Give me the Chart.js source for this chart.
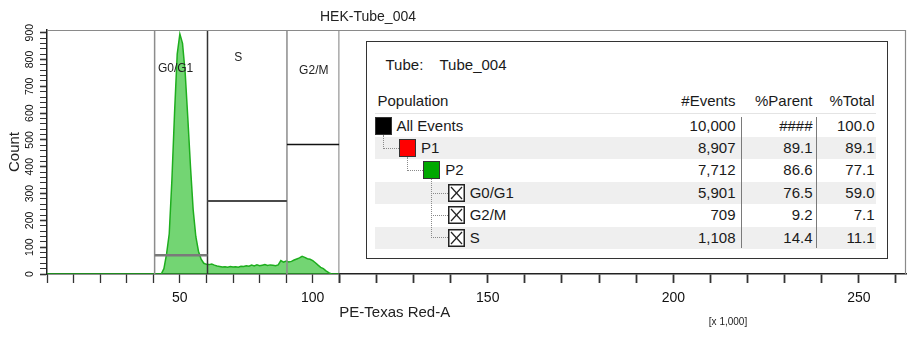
<!DOCTYPE html>
<html lang="en">
<head>
<meta charset="UTF-8" />
<title>HEK-Tube_004</title>
<script src="https://cdn.jsdelivr.net/npm/chart.js"></script>
<style>
  html, body { margin: 0; padding: 0; background: #fff; }
  body { width: 913px; height: 337px; position: relative; overflow: hidden;
         font-family: 'Liberation Sans', Arial, sans-serif; }
  #plot { position: absolute; left: 0; top: 0; }
  #stats { position: absolute; left: 366px; top: 41px; width: 522px; height: 218px;
           box-sizing: border-box; border: 1.5px solid #333; background: #fff; }
  .abs { position: absolute; }
  .txt { position: absolute; height: 18px; line-height: 18px; font-size: 15px; color: #1a1a1a; white-space: nowrap; }
  .num { text-align: right; width: 90px; }
  .stripe { position: absolute; background: #efefef; }
  .sep { position: absolute; width: 1.5px; background: #7a7a7a; }
  .link { position: absolute; border-left: 1px dotted #8a8a8a; border-bottom: 1px dotted #8a8a8a; box-sizing: border-box; }
  .swatch { position: absolute; width: 17px; height: 18px; box-sizing: border-box; border: 1px solid #333; }
</style>
</head>
<body>
  <canvas id="plot" width="913" height="337"></canvas>
  <div id="stats"></div>

<script>
  // histogram (PE-Texas Red-A, x1000) and counts
  const channels = [0, 40, 41, 42, 43, 44, 45, 46, 47, 48, 49, 50, 51, 52, 53, 54, 55, 56, 57, 58, 59,
    60, 61, 62, 63, 64, 65, 66, 67, 68, 69, 70, 71, 72, 73, 74, 75, 76, 77, 78, 79,
    80, 81, 82, 83, 84, 85, 86, 87, 88, 89, 90, 91, 92, 93, 94, 95, 96, 97, 98, 99,
    100, 101, 102, 103, 104, 105, 106, 107, 108, 110];
  const counts = [0, 0, 0, 0, 0, 20, 75, 150, 350, 600, 820, 895, 860, 750, 580, 400, 240, 140, 85, 55, 40,
    36, 35, 37, 33, 30, 28, 26, 27, 25, 28, 26, 27, 25, 29, 28, 31, 29, 33, 30, 34,
    31, 33, 35, 32, 34, 33, 31, 34, 50, 44, 48, 45, 47, 52, 56, 60, 66, 62, 57, 55,
    50, 42, 33, 25, 20, 12, 5, 0, 0, 0];

  // interval gates
  const gateNames = ['G0/G1', 'S', 'G2/M'];
  const gateLow = [40.5, 60.4, 90.3];
  const gateHigh = [60.4, 90.3, 110];
  const gateLevel = [70, 272, 483];
  const gateLabelX = [48.4, 72, 100.4];
  const gateLabelY = [766, 807, 758];
  const gateLineColor = ['#7a7a7a', '#4a4a4a', '#111111'];
  const gateLineWidth = [2.5, 2, 1.5];
  const edgeValues = [40.5, 60.4, 90.3, 110];
  const edgeColors = ['#8c8c8c', '#333333', '#8c8c8c', '#555555'];

  // axis ticks
  const xLabelsLeft = [50, 100];
  const xLabelsRight = [150, 200, 250];

  // population statistics
  const popNames = ['All Events', 'P1', 'P2', 'G0/G1', 'G2/M', 'S'];
  const popDepth = [0, 1, 2, 3, 3, 3];
  const popColor = ['#000000', '#ff0000', '#00a800', null, null, null];
  const popEvents = ['10,000', '8,907', '7,712', '5,901', '709', '1,108'];
  const popParent = ['####', '89.1', '86.6', '76.5', '9.2', '14.4'];
  const popTotal = ['100.0', '89.1', '77.1', '59.0', '7.1', '11.1'];

  const FONT = "'Liberation Sans', Arial, sans-serif";

  const datasets = [];
  datasets.push({
    label: 'P2',
    data: channels.map((c, i) => ({ x: c, y: counts[i] })),
    borderColor: '#1eae1e',
    backgroundColor: 'rgba(40,190,40,0.65)',
    borderWidth: 1.5,
    pointRadius: 0,
    fill: 'origin',
    tension: 0,
    order: 2
  });
  edgeValues.forEach((v, i) => {
    datasets.push({
      label: 'edge' + i,
      data: [{ x: v, y: 0 }, { x: v, y: 910 }],
      borderColor: edgeColors[i], borderWidth: 1.5, pointRadius: 0, fill: false, order: 1
    });
  });
  gateNames.forEach((n, i) => {
    datasets.push({
      label: n,
      data: [{ x: gateLow[i], y: gateLevel[i] }, { x: gateHigh[i], y: gateLevel[i] }],
      borderColor: gateLineColor[i], borderWidth: gateLineWidth[i], pointRadius: 0, fill: false, order: 0
    });
  });

  const labelPlugin = {
    id: 'labelPlugin',
    afterDatasetsDraw(chart) {
      const { ctx, chartArea, scales } = chart;
      ctx.save();
      // panel frame (top and right edges)
      ctx.strokeStyle = '#8a8a8a';
      ctx.lineWidth = 1.2;
      ctx.beginPath();
      ctx.moveTo(chartArea.left, chartArea.top + 0.5);
      ctx.lineTo(chartArea.right - 0.5, chartArea.top + 0.5);
      ctx.lineTo(chartArea.right - 0.5, chartArea.bottom);
      ctx.stroke();
      // gate names
      ctx.fillStyle = '#222';
      ctx.textAlign = 'center';
      ctx.textBaseline = 'middle';
      ctx.font = '12px ' + FONT;
      gateNames.forEach((n, i) => {
        ctx.fillText(n, scales.x.getPixelForValue(gateLabelX[i]), scales.y.getPixelForValue(gateLabelY[i]));
      });
      // title and scale note
      ctx.font = '14px ' + FONT;
      ctx.fillText('HEK-Tube_004', 368, 17);
      ctx.font = '10px ' + FONT;
      ctx.fillText('[x 1,000]', 728, 322);
      ctx.restore();
    }
  };

  const tickFont = { family: FONT, size: 14 };

  new Chart(document.getElementById('plot'), {
    type: 'line',
    data: { datasets: datasets },
    options: {
      responsive: false,
      animation: false,
      devicePixelRatio: 1,
      layout: { padding: { top: 30, right: 2, left: 0, bottom: 0 } },
      plugins: { legend: { display: false }, tooltip: { enabled: false } },
      scales: {
        x: {
          type: 'linear', position: 'bottom', stack: 'pe', stackWeight: 294,
          min: 0, max: 110,
          border: { display: true, color: '#222', width: 1.5 },
          grid: { display: true, drawOnChartArea: false, drawTicks: true, tickLength: 9, tickColor: '#333', tickWidth: 1.3 },
          ticks: { stepSize: 10, autoSkip: false, includeBounds: false, maxRotation: 0, padding: 7, color: '#111', font: tickFont,
                   callback: v => xLabelsLeft.includes(v) ? String(v) : '' },
          afterFit: s => { s.height = 63; }
        },
        x2: {
          type: 'linear', position: 'bottom', stack: 'pe', stackWeight: 570,
          min: 110, max: 262.7,
          border: { display: true, color: '#222', width: 1.5 },
          grid: { display: true, drawOnChartArea: false, drawTicks: true, tickLength: 9, tickColor: '#333', tickWidth: 1.8 },
          ticks: { stepSize: 10, autoSkip: false, includeBounds: false, maxRotation: 0, padding: 7, color: '#111', font: tickFont,
                   callback: v => xLabelsRight.includes(v) ? String(v) : '' },
          title: { display: true, text: 'PE-Texas Red-A', align: 'start', color: '#222',
                   font: { family: FONT, size: 15 }, padding: { top: 0, bottom: 15 } },
          afterFit: s => { s.height = 63; }
        },
        y: {
          type: 'linear', position: 'left', min: 0, max: 910,
          border: { display: true, color: '#222', width: 1.5 },
          grid: { display: true, drawOnChartArea: false, drawTicks: true, tickLength: 7, tickColor: '#333',
                  tickWidth: c => (c.tick && c.tick.value % 100 === 0) ? 1.6 : 1 },
          ticks: { stepSize: 20, autoSkip: false, includeBounds: false, minRotation: 90, maxRotation: 90,
                   crossAlign: 'center', padding: 1, color: '#111', font: { family: FONT, size: 10.5 },
                   callback: v => (v % 100 === 0) ? String(v) : '' },
          title: { display: true, text: 'Count', color: '#222', font: { family: FONT, size: 15 }, padding: { top: 6, bottom: 0 } },
          afterFit: s => { s.width = 47; }
        }
      }
    },
    plugins: [labelPlugin]
  });

  // statistics panel (page coordinates converted to panel coordinates)
  const stats = document.getElementById('stats');
  const ox = 366 + 1.5, oy = 41 + 1.5;
  function add(cls, x, y, w, h, text) {
    const d = document.createElement('div');
    d.className = cls;
    d.style.left = (x - ox) + 'px';
    d.style.top = (y - oy) + 'px';
    if (w != null) d.style.width = w + 'px';
    if (h != null) d.style.height = h + 'px';
    if (text != null) d.textContent = text;
    stats.appendChild(d);
    return d;
  }
  const rowY = i => 126 + i * 22.4;
  const iconX = d => 375 + 24.4 * d;

  popNames.forEach((n, i) => { if (i % 2 === 1) add('stripe', 375, rowY(i) - 11, 501, 22); });
  add('abs', 375, 113, 501, 1).style.background = '#e4e4e4';

  add('txt', 386, 65 - 9, null, null, 'Tube:');
  add('txt', 440, 65 - 9, null, null, 'Tube_004');
  add('txt', 378, 101 - 9, null, null, 'Population');
  add('txt num', 736 - 90, 101 - 9, null, null, '#Events');
  add('txt num', 813 - 90, 101 - 9, null, null, '%Parent');
  add('txt num', 875 - 90, 101 - 9, null, null, '%Total');

  popNames.forEach((n, i) => {
    const d = popDepth[i];
    const cy = rowY(i);
    const ix = iconX(d);
    if (d > 0) {
      let p = i - 1;
      while (popDepth[p] !== d - 1) p--;
      const px = iconX(d - 1) + 8;
      const pb = rowY(p) + 9;
      add('link', px, pb, ix - px, cy - pb + 1);
    }
    if (popColor[i]) {
      add('swatch', ix, cy - 9, null, null).style.background = popColor[i];
    } else {
      const g = add('abs', ix, cy - 9, 17, 18);
      g.innerHTML = '<svg width="17" height="18" viewBox="0 0 17 18"><rect x="0.75" y="0.75" width="15.5" height="16.5" fill="#fff" stroke="#222" stroke-width="1.5"/>' +
        '<line x1="3" y1="3" x2="14" y2="15" stroke="#222" stroke-width="1.2"/><line x1="14" y1="3" x2="3" y2="15" stroke="#222" stroke-width="1.2"/></svg>';
    }
    add('txt', ix + 22, cy - 9, null, null, n);
    add('txt num', 736 - 90, cy - 9, null, null, popEvents[i]);
    add('txt num', 813 - 90, cy - 9, null, null, popParent[i]);
    add('txt num', 875 - 90, cy - 9, null, null, popTotal[i]);
  });
  add('sep', 741, 117, null, 131);
  add('sep', 816, 117, null, 131);
</script>
</body>
</html>
